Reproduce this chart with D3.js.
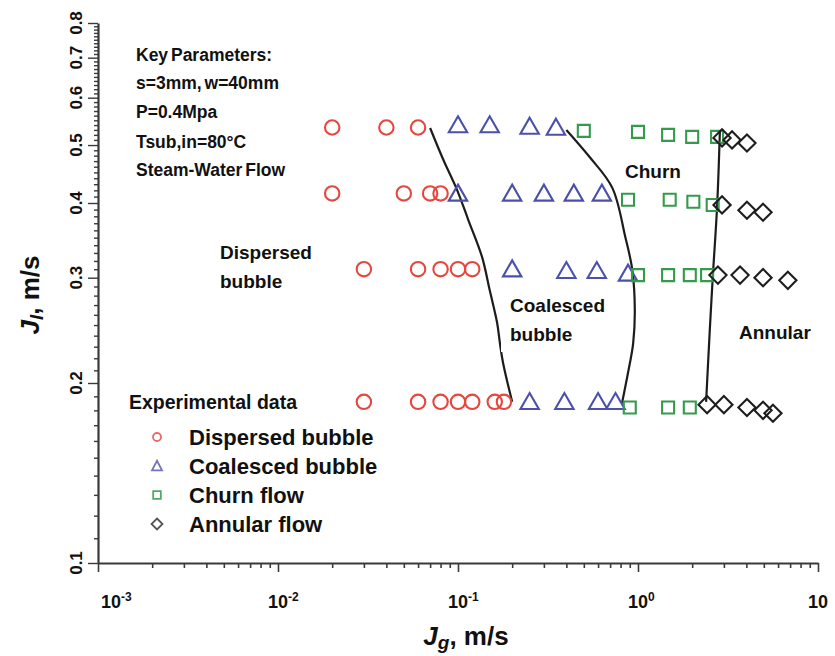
<!DOCTYPE html>
<html>
<head>
<meta charset="utf-8">
<script src="https://cdn.jsdelivr.net/npm/d3@7"></script>
<style>
  html, body { margin: 0; padding: 0; background: #fff; }
  svg { display: block; font-family: "Liberation Sans", Arial, sans-serif; }
</style>
</head>
<body>
<svg id="chart" width="835" height="656"></svg>
<script>
// Flow-regime map: gas superficial velocity Jg vs liquid superficial velocity Jl (m/s)
// Each point is [Jg, Jl].
const dispersedBubble = [
  [0.02, 0.535], [0.04, 0.535], [0.06, 0.535],
  [0.02, 0.415], [0.05, 0.415], [0.07, 0.415], [0.08, 0.415],
  [0.03, 0.31], [0.06, 0.31], [0.08, 0.31], [0.10, 0.31], [0.12, 0.31],
  [0.03, 0.186], [0.06, 0.186], [0.08, 0.186], [0.10, 0.186], [0.12, 0.186], [0.16, 0.186], [0.18, 0.186]
];
const coalescedBubble = [
  [0.10, 0.54], [0.15, 0.54], [0.25, 0.537], [0.35, 0.535],
  [0.10, 0.415], [0.20, 0.415], [0.30, 0.415], [0.44, 0.415], [0.63, 0.415],
  [0.20, 0.31], [0.40, 0.308], [0.59, 0.308], [0.88, 0.305],
  [0.25, 0.186], [0.39, 0.186], [0.60, 0.186], [0.75, 0.186]
];
const churnFlow = [
  [0.5, 0.528], [1.0, 0.526], [1.47, 0.52], [2.0, 0.516], [2.75, 0.516],
  [0.88, 0.405], [1.5, 0.405], [2.03, 0.402], [2.6, 0.397],
  [1.0, 0.303], [1.47, 0.303], [1.94, 0.303], [2.42, 0.303],
  [0.9, 0.182], [1.47, 0.182], [1.94, 0.182]
];
const annularFlow = [
  [2.93, 0.514], [3.33, 0.51], [4.03, 0.504],
  [2.93, 0.397], [4.03, 0.389], [4.95, 0.386],
  [2.78, 0.303], [3.69, 0.303], [4.95, 0.3], [6.8, 0.297],
  [2.42, 0.184], [3.0, 0.184], [4.03, 0.182], [4.95, 0.18], [5.62, 0.178]
];

// Transition boundaries between regimes
const boundaryBubbleCoalesced = [
  [0.070, 0.534], [0.083, 0.472], [0.099, 0.42], [0.114, 0.375], [0.136, 0.325],
  [0.15, 0.286], [0.165, 0.252], [0.171, 0.233], [0.178, 0.216], [0.2, 0.186]
];
const boundaryCoalescedChurn = [
  [0.40, 0.53], [0.54, 0.477], [0.72, 0.424], [0.85, 0.351], [0.93, 0.309],
  [0.96, 0.265], [0.94, 0.233], [0.88, 0.208], [0.815, 0.185]
];
const boundaryChurnAnnular = [
  [2.85, 0.526], [2.75, 0.394], [2.61, 0.305], [2.51, 0.248], [2.39, 0.186]
];

// Axis ticks
const xMajorTicks = [1e-3, 1e-2, 1e-1, 1, 10];
const xTickBase = ["10", "10", "10", "10", "10"];
const xTickExp = ["-3", "-2", "-1", "0", ""];
const yMajorTicks = [0.1, 0.2, 0.3, 0.4, 0.5, 0.6, 0.7, 0.8];
const yTickLabels = ["0.1", "0.2", "0.3", "0.4", "0.5", "0.6", "0.7", "0.8"];

// Text
const keyParameters = ["Key Parameters:", "s=3mm, w=40mm", "P=0.4Mpa", "Tsub,in=80°C", "Steam-Water Flow"];
const legendTitle = "Experimental data";
const legendNames = ["Dispersed bubble", "Coalesced bubble", "Churn flow", "Annular flow"];

const svg = d3.select("#chart");
const x = d3.scaleLog().domain([1e-3, 10]).range([98, 818]);
const y = d3.scaleLog().domain([0.1, 0.8]).range([563, 23]);

const axisColor = "#3a3a3a";

// ---- X axis ----
const xMinor = [];
xMajorTicks.slice(0, -1).forEach(d => { for (let k = 2; k <= 9; k++) xMinor.push(k * d); });
const gx = svg.append("g").attr("transform", "translate(0,563)");
gx.append("g").call(d3.axisBottom(x).tickValues(xMinor).tickSize(5).tickSizeOuter(0).tickFormat(""))
  .call(g => g.select(".domain").remove());
gx.append("g").call(d3.axisBottom(x).tickValues(xMajorTicks).tickSize(9).tickSizeOuter(0).tickFormat(""));
gx.selectAll("line").attr("stroke", axisColor).attr("stroke-width", 1.6);
gx.selectAll(".domain").attr("stroke", axisColor).attr("stroke-width", 2.2);

const xLabels = svg.append("g")
  .attr("font-weight", "bold").attr("font-size", 18).attr("fill", "#111");
xMajorTicks.forEach((v, i) => {
  const shift = i === 0 ? 3 : -10;
  const t = xLabels.append("text").attr("x", x(v) + shift).attr("y", 608);
  t.append("tspan").text(xTickBase[i]);
  if (xTickExp[i]) t.append("tspan").attr("font-size", 12).attr("dy", -7).text(xTickExp[i]);
});

// ---- Y axis ----
const yMinor = d3.range(11, 80).filter(v => v % 10 !== 0).map(v => v / 100);
const gy = svg.append("g").attr("transform", "translate(98,0)");
gy.append("g").call(d3.axisLeft(y).tickValues(yMinor).tickSize(4).tickSizeOuter(0).tickFormat(""))
  .call(g => g.select(".domain").remove());
gy.append("g").call(d3.axisLeft(y).tickValues(yMajorTicks).tickSize(10).tickSizeOuter(0).tickFormat(""));
gy.selectAll("line").attr("stroke", axisColor).attr("stroke-width", 1.4);
gy.selectAll(".domain").attr("stroke", axisColor).attr("stroke-width", 2.2);

const yLabels = svg.append("g")
  .attr("font-weight", "bold").attr("font-size", 17).attr("fill", "#111").attr("text-anchor", "middle");
yMajorTicks.forEach((v, i) => {
  yLabels.append("text")
    .attr("transform", `translate(82,${y(v)}) rotate(-90)`)
    .text(yTickLabels[i]);
});

// ---- Axis titles ----
const xTitle = svg.append("text")
  .attr("x", 466).attr("y", 645).attr("text-anchor", "middle")
  .attr("font-weight", "bold").attr("font-size", 26).attr("fill", "#111");
xTitle.append("tspan").attr("font-style", "italic").text("J");
xTitle.append("tspan").attr("font-style", "italic").attr("font-size", 19).attr("dy", 4).text("g");
xTitle.append("tspan").attr("dy", -4).text(", m/s");

const yTitle = svg.append("text")
  .attr("transform", "translate(39,295) rotate(-90)").attr("text-anchor", "middle")
  .attr("font-weight", "bold").attr("font-size", 26).attr("fill", "#111");
yTitle.append("tspan").attr("font-style", "italic").text("J");
yTitle.append("tspan").attr("font-style", "italic").attr("font-size", 19).attr("dy", 4).text("l");
yTitle.append("tspan").attr("dy", -4).text(", m/s");

// ---- Regime boundaries ----
const line = d3.line().x(d => x(d[0])).y(d => y(d[1])).curve(d3.curveCatmullRom.alpha(0.5));
svg.append("g").selectAll("path")
  .data([boundaryBubbleCoalesced, boundaryCoalescedChurn, boundaryChurnAnnular])
  .join("path")
  .attr("d", line).attr("fill", "none").attr("stroke", "#1c1c1c").attr("stroke-width", 2.2);

// ---- Markers ----
function circlePath(r) { return `M${r},0A${r},${r},0,1,1,${-r},0A${r},${r},0,1,1,${r},0Z`; }
function trianglePath(w, h) { return `M0,${-h * 0.55}L${w},${h * 0.45}L${-w},${h * 0.45}Z`; }
function squarePath(s) { return `M${-s},${-s}H${s}V${s}H${-s}Z`; }
function diamondPath(s) { return `M0,${-s}L${s},0L0,${s}L${-s},0Z`; }

const series = [
  { data: dispersedBubble, color: "#e5473f", path: circlePath(7.2) },
  { data: coalescedBubble, color: "#4b50ad", path: trianglePath(9.2, 16) },
  { data: churnFlow, color: "#359a4b", path: squarePath(6) },
  { data: annularFlow, color: "#1e1e1e", path: diamondPath(8.6) }
];
series.forEach(s => {
  svg.append("g").selectAll("path")
    .data(s.data).join("path")
    .attr("transform", d => `translate(${x(d[0])},${y(d[1])})`)
    .attr("d", s.path)
    .attr("fill", "none").attr("stroke", s.color).attr("stroke-width", 2.1);
});

// ---- Region labels ----
function regionLabel(lines, x0, yBase) {
  const g = svg.append("g").attr("font-weight", "bold").attr("font-size", 19).attr("fill", "#111");
  lines.forEach((t, i) => g.append("text").attr("x", x0).attr("y", yBase + i * 29).text(t));
  return g;
}
// white box behind the coalesced label
svg.append("rect").attr("x", 501).attr("y", 290).attr("width", 110).attr("height", 62).attr("fill", "#fff");
regionLabel(["Dispersed", "bubble"], 220, 259);
regionLabel(["Coalesced", "bubble"], 510, 312);
regionLabel(["Churn"], 625, 178);
regionLabel(["Annular"], 739, 339);

// ---- Key parameters block ----
const kp = svg.append("g").attr("font-weight", "bold").attr("font-size", 17.5).attr("fill", "#111")
  .attr("word-spacing", -2);
const kpY = [61, 89, 118, 148, 176];
keyParameters.forEach((t, i) => kp.append("text").attr("x", 136).attr("y", kpY[i]).text(t));

// ---- Legend ----
svg.append("text").attr("x", 129).attr("y", 409)
  .attr("font-weight", "bold").attr("font-size", 19.5).attr("fill", "#111").text(legendTitle);
const legendMarks = [
  { color: "#e86a6a", path: circlePath(4) },
  { color: "#7474bd", path: trianglePath(5, 9.5) },
  { color: "#4fa865", path: squarePath(3.8) },
  { color: "#555555", path: diamondPath(5.5) }
];
const legendY = [437, 466, 495, 524];
legendNames.forEach((name, i) => {
  svg.append("path")
    .attr("transform", `translate(157,${legendY[i]})`)
    .attr("d", legendMarks[i].path)
    .attr("fill", "none").attr("stroke", legendMarks[i].color).attr("stroke-width", 1.8);
  svg.append("text").attr("x", 189).attr("y", legendY[i] + 8)
    .attr("font-weight", "bold").attr("font-size", 22).attr("fill", "#111").text(name);
});
</script>
</body>
</html>
